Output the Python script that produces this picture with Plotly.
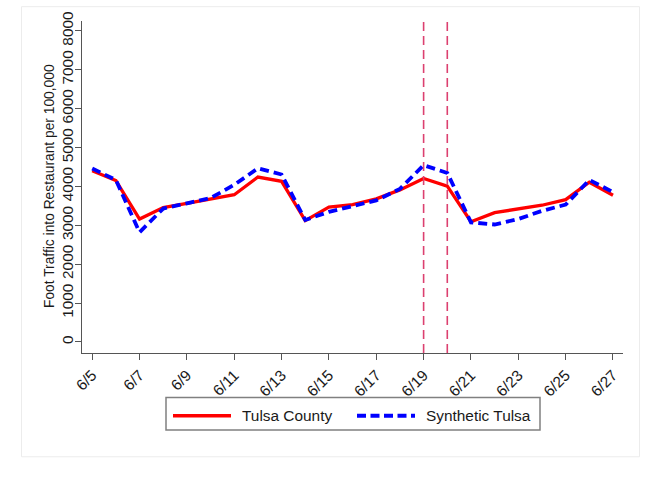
import plotly.graph_objects as go

# Daily foot traffic into restaurants per 100,000 residents, June 2020
dates = [
    "2020-06-05", "2020-06-06", "2020-06-07", "2020-06-08", "2020-06-09",
    "2020-06-10", "2020-06-11", "2020-06-12", "2020-06-13", "2020-06-14",
    "2020-06-15", "2020-06-16", "2020-06-17", "2020-06-18", "2020-06-19",
    "2020-06-20", "2020-06-21", "2020-06-22", "2020-06-23", "2020-06-24",
    "2020-06-25", "2020-06-26", "2020-06-27",
]
tulsa_county = [
    4400, 4150, 3160, 3455, 3560, 3665, 3785, 4240, 4130, 3120, 3465, 3530,
    3680, 3910, 4205, 4005, 3090, 3325, 3430, 3515, 3660, 4105, 3770,
]
synthetic_tulsa = [
    4460, 4165, 2820, 3430, 3565, 3700, 4040, 4465, 4305, 3135, 3345, 3500,
    3640, 3935, 4545, 4345, 3075, 3020, 3160, 3370, 3530, 4165, 3855,
]
event_days = ["2020-06-19", "2020-06-20"]
y_ticks = [0, 1000, 2000, 3000, 4000, 5000, 6000, 7000, 8000]
series_names = ["Tulsa County", "Synthetic Tulsa"]
y_title = "Foot Traffic into Restaurant per 100,000"

FONT = "Liberation Sans, Arial, sans-serif"
FS = 15.4
FS_TITLE = 13.8
W, H = 658, 482
ML, MR, MT, MB = 82, 35, 17, 129
PW, PH = W - ML - MR, H - MT - MB


def px(x):
    return (x - ML) / PW


def py(y):
    return (H - MB - y) / PH


fig = go.Figure()
fig.add_trace(go.Scatter(
    x=dates, y=tulsa_county, mode="lines", name=series_names[0],
    line=dict(color="#ff0000", width=3.3), showlegend=False,
))
fig.add_trace(go.Scatter(
    x=dates, y=synthetic_tulsa, mode="lines", name=series_names[1],
    line=dict(color="#0000ff", width=3.8, dash="9px,5px"), showlegend=False,
))

shapes = []
for d in event_days:
    shapes.append(dict(
        type="line", xref="x", yref="paper", x0=d, x1=d, y0=0, y1=1,
        line=dict(color="#dc4070", width=1.6, dash="9px,5px"),
    ))

# outer graph region frame
shapes.append(dict(
    type="rect", xref="paper", yref="paper",
    x0=px(21.5), x1=px(639.5), y0=py(458), y1=py(2.5),
    line=dict(color="#ececec", width=1), layer="below",
))

# legend box and keys
shapes.append(dict(
    type="rect", xref="paper", yref="paper",
    x0=px(166), x1=px(540), y0=py(431), y1=py(398),
    line=dict(color="#808080", width=1.5), fillcolor="white",
))
shapes.append(dict(
    type="line", xref="paper", yref="paper",
    x0=px(173), x1=px(231), y0=py(416.5), y1=py(416.5),
    line=dict(color="#ff0000", width=3.3),
))
shapes.append(dict(
    type="line", xref="paper", yref="paper",
    x0=px(357), x1=px(415), y0=py(416.5), y1=py(416.5),
    line=dict(color="#0000ff", width=3.8, dash="9px,4.5px"),
))

text_font = dict(family=FONT, size=FS, color="#1a1a1a")
annotations = [
    dict(text=series_names[0], xref="paper", yref="paper", x=px(240),
         y=py(416.5), xanchor="left", yanchor="middle", showarrow=False,
         font=text_font),
    dict(text=series_names[1], xref="paper", yref="paper", x=px(424),
         y=py(416.5), xanchor="left", yanchor="middle", showarrow=False,
         font=text_font),
    # y-axis title
    dict(text=y_title, xref="paper", yref="paper", x=px(49.5), y=py(184.5),
         xanchor="center", yanchor="middle", textangle=-90,
         showarrow=False,
         font=dict(family=FONT, size=FS_TITLE, color="#1a1a1a")),
]

fig.update_layout(
    width=W, height=H,
    margin=dict(l=ML, r=MR, t=MT, b=MB, pad=0),
    paper_bgcolor="white", plot_bgcolor="white",
    font=text_font,
    shapes=shapes, annotations=annotations,
    showlegend=False,
)
fig.update_xaxes(
    range=["2020-06-04 13:39", "2020-06-27 10:09"],
    tickmode="linear", tick0="2020-06-05", dtick=2 * 86400000,
    tickformat="%-m/%-d", tickangle=-45,
    showgrid=False, zeroline=False,
    showline=True, linecolor="#555555", linewidth=1.3,
    ticks="outside", ticklen=6, tickwidth=1.3, tickcolor="#555555",
    tickfont=text_font,
)
fig.update_yaxes(
    range=[-285, 8253],
    tickmode="array", tickvals=y_ticks, ticktext=[str(v) for v in y_ticks],
    tickangle=-90, ticklabelstandoff=-4,
    showgrid=False, zeroline=False,
    showline=True, linecolor="#555555", linewidth=1.3,
    ticks="outside", ticklen=6, tickwidth=1.3, tickcolor="#555555",
    tickfont=text_font,
)

fig.write_html("out.html")
